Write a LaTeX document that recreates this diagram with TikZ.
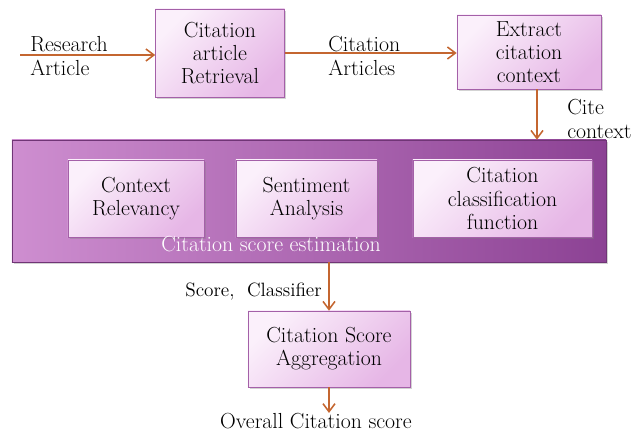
\documentclass[tikz,border=0pt]{standalone}
\usepackage{fontspec}
\usepackage{tikz}
\usetikzlibrary{arrows.meta,positioning,calc,shadows}
\definecolor{plum}{RGB}{164,96,168}
\definecolor{plumlight}{RGB}{251,240,251}
\definecolor{plumpink}{RGB}{230,182,230}
\definecolor{plumleft}{RGB}{206,142,208}
\definecolor{plummid}{RGB}{190,110,194}
\definecolor{plumright}{RGB}{140,66,148}
\definecolor{rust}{RGB}{196,102,48}
\newcommand{\bigtext}{\fontsize{15.5}{16.5}\selectfont}

\begin{document}
\begin{tikzpicture}[x=0.025cm,y=-0.025cm,>={Straight Barb[length=2mm,width=3mm]},
  every node/.style={font=\bigtext,align=center,inner sep=0pt},
  procbox/.style={draw=plum,thin,top color=plumlight,bottom color=plumpink,shading angle=45,
    drop shadow={opacity=0.35,shadow xshift=1.2pt,shadow yshift=-1.2pt}},
  flow/.style={->,rust,line width=1.1pt}]
  \useasboundingbox (0,0) rectangle (634,434);
  % top row
  \node[procbox,minimum width=3.225cm,minimum height=2.2cm] (ret) at (220,53) {Citation\\article\\Retrieval};
  \node[procbox,minimum width=3.6cm,minimum height=1.85cm] (ext) at (529,52) {Extract\\citation\\context};
  % estimation block
  \node[draw=plumright!80!black,thin,left color=plumleft,middle color=plummid,right color=plumright,
    drop shadow={opacity=0.35,shadow xshift=1.2pt,shadow yshift=-1.2pt},
    minimum width=14.85cm,minimum height=3.05cm] (est) at (309,201) {};
  \node[procbox,minimum width=3.4cm,minimum height=1.925cm] (rel) at (136,198.5) {Context\\Relevancy};
  \node[procbox,minimum width=3.525cm,minimum height=1.925cm] (sent) at (306.5,198.5) {Sentiment\\Analysis};
  \node[procbox,minimum width=4.475cm,minimum height=1.925cm] (cls) at (502.5,198.5) {Citation\\classification\\function};
  \node[text=white,font=\fontsize{15.5}{17}\selectfont] (esttitle) at (271,244) {Citation score estimation};
  % aggregation
  \node[procbox,minimum width=4.05cm,minimum height=1.9cm] (agg) at (329,349) {Citation Score\\Aggregation};
  \node (overall) at (316,421) {Overall Citation score};
  % arrows and labels
  \coordinate (resin) at (20,55);
  \draw[flow] (resin) -- (ret.west |- resin);
  \node[anchor=west,align=left] (reslbl) at (30,56) {Research\\Article};
  \draw[flow] (ret.east) -- (ext.west |- ret.east);
  \node[anchor=west,align=left] (artlbl) at (328,56) {Citation\\Articles};
  \draw[flow] ([xshift=0.2cm]ext.south) -- ([xshift=0.2cm]ext.south |- est.north);
  \node[anchor=west,align=left] (citelbl) at (567,119) {Cite\\context};
  \draw[flow] (agg.north |- est.south) -- (agg.north);
  \node[anchor=east,font=\fontsize{13.7}{15}\selectfont] (scorelbl) at (322,292) {Score,~ Classifier};
  \draw[flow] (agg.south) -- (agg.south |- overall.north);
\end{tikzpicture}
\end{document}
